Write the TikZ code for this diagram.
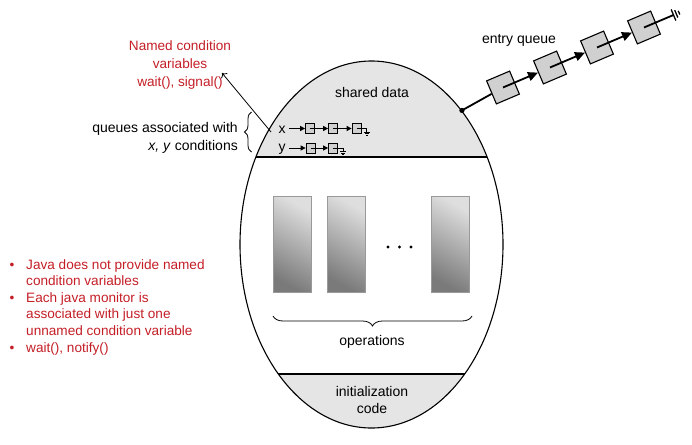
\documentclass[tikz,border=0pt]{standalone}
\usepackage{fontspec}
\setmainfont{Liberation Sans}
\usetikzlibrary{arrows.meta,decorations.pathreplacing,shapes.geometric,calc}
\definecolor{cvred}{RGB}{196,30,38}
\begin{document}
\begin{tikzpicture}[x=1pt,y=-1pt,
  lbl/.style={font=\fontsize{14}{17}\selectfont, inner sep=0pt},
  redlbl/.style={lbl, text=cvred, font=\fontsize{13.6}{17}\selectfont},
  qbox/.style={draw, fill=gray!37, line width=1.1pt, minimum size=25pt, inner sep=0pt, rotate=23},
  sbox/.style={draw, fill=gray!37, line width=0.7pt, minimum width=9pt, minimum height=10pt, inner sep=0pt},
  qlink/.style={line width=1.8pt, -{Triangle[length=10pt,width=9pt]}},
  slink/.style={line width=0.8pt, -{Triangle[length=5pt,width=5pt]}},
  opbox/.style={draw=gray!80, line width=0.5pt, top color=black!13, bottom color=black!52, shading angle=-30},
  outline/.style={line width=1.1pt},
  brace/.style={decorate, decoration={brace, amplitude=#1}, line width=0.8pt}
]
\useasboundingbox (0,0) rectangle (692,444);

% monitor regions
\begin{scope}
  \clip (371.5,244.5) ellipse [x radius=131.5, y radius=183.5];
  \fill[gray!20] (200,0) rectangle (560,157);
  \fill[gray!20] (200,374) rectangle (560,444);
  \draw[outline] (200,157) -- (560,157);
  \draw[outline] (200,374) -- (560,374);
\end{scope}
\node[ellipse, draw, outline, minimum width=263pt, minimum height=367pt, inner sep=0pt] (monitor) at (371.5,244.5) {};

% texts inside monitor
\node[lbl, anchor=base] (shared) at (372,97.3) {shared data};
\node[lbl, anchor=base] (ops) at (372,345.5) {operations};
\node[lbl, anchor=base] (init1) at (372,396.7) {initialization};
\node[lbl, anchor=base] (init2) at (372,413.3) {code};

% operation boxes
\shade[opbox] (273,196) rectangle (311,292);
\shade[opbox] (327,196) rectangle (365,292);
\shade[opbox] (431,196) rectangle (469,292);
\fill (388,247) circle[radius=1.7];
\fill (399.5,247) circle[radius=1.7];
\fill (411,247) circle[radius=1.7];
\draw[brace=10pt] (472,316) -- (273,316);

% entry queue
\coordinate (att) at (monitor.56.6);
\node[qbox] (q1) at (503,87.5) {};
\node[qbox] (q2) at (550,67.5) {};
\node[qbox] (q3) at (597,47.5) {};
\node[qbox] (q4) at (644,27.5) {};
\draw[line width=1.8pt] (att) -- (q1);
\fill (att) circle[radius=2.6];
\draw[qlink] (q1.center) -- (q2.west);
\draw[qlink] (q2.center) -- (q3.west);
\draw[qlink] (q3.center) -- (q4.west);
\coordinate (qend) at (673.5,15);
\draw[line width=1.8pt] (q4.center) -- (qend);
\draw[line width=1.3pt] (671.16,9.48) -- (675.84,20.52);
\draw[line width=1.3pt] (674.70,10.15) -- (677.82,17.51);
\draw[line width=1.3pt] (678.24,10.82) -- (679.80,14.50);
\node[lbl, anchor=base] (eq) at (519,44) {entry queue};

% condition queues
\node[lbl, anchor=base, inner xsep=3.5pt] (xl) at (282,133) {x};
\node[lbl, anchor=base, inner xsep=3.5pt] (yl) at (282,151) {y};
\node[sbox] (x1) at (310,128.5) {};
\node[sbox] (x2) at (333,128.5) {};
\node[sbox] (x3) at (356.5,128.5) {};
\node[sbox] (y1) at (310.5,148) {};
\node[sbox] (y2) at (333,148) {};
\draw[slink] (x1.west -| xl.east) -- (x1.west);
\draw[slink] (x1.center) -- (x2.west);
\draw[slink] (x2.center) -- (x3.west);
\draw[slink] (y1.west -| yl.east) -- (y1.west);
\draw[slink] (y1.center) -- (y2.west);
\coordinate (xg) at ($(x3.east)+(5.5,0)$);
\coordinate (yg) at ($(y2.east)+(5.5,0)$);
\draw[line width=0.8pt] (x3.center) -- (xg) -- ++(0,3.5);
\draw[line width=0.7pt] ($(xg)+(-3,3.5)$) -- ++(6,0) ($(xg)+(-2,5)$) -- ++(4,0) ($(xg)+(-1,6.5)$) -- ++(2,0);
\draw[line width=0.8pt] (y2.center) -- (yg) -- ++(0,3.5);
\draw[line width=0.7pt] ($(yg)+(-3,3.5)$) -- ++(6,0) ($(yg)+(-2,5)$) -- ++(4,0) ($(yg)+(-1,6.5)$) -- ++(2,0);

% queues label and brace
\node[lbl, anchor=base east] (qa1) at (238,132) {queues associated with};
\node[lbl, anchor=base east] (qa2) at (238,150) {\textit{x, y} conditions};
\draw[brace=7pt] (251.5,152) -- (251.5,112);

% named condition variables
\node[redlbl, anchor=base] (cv1) at (180,51) {Named condition};
\node[redlbl, anchor=base] (cv2) at (180,68.5) {variables};
\node[redlbl, anchor=base] (cv3) at (180,86) {wait(), signal()};
\coordinate (cvfrom) at (271,132);
\coordinate (cvto) at (222,73);
\draw[line width=0.8pt, -{To[length=4pt,width=8pt]}] (cvfrom) -- (cvto);

% java notes
\node[redlbl, anchor=base west] (b1a) at (26,269) {Java does not provide named};
\node[redlbl, anchor=base west] (b1b) at (26,285.6) {condition variables};
\node[redlbl, anchor=base west] (b2a) at (26,302.2) {Each java monitor is};
\node[redlbl, anchor=base west] (b2b) at (26,318.8) {associated with just one};
\node[redlbl, anchor=base west] (b2c) at (26,335.4) {unnamed condition variable};
\node[redlbl, anchor=base west] (b3a) at (26,352) {wait(), notify()};
\node[redlbl, anchor=base] (d1) at (12,269) {•};
\node[redlbl, anchor=base] (d2) at (12,302.2) {•};
\node[redlbl, anchor=base] (d3) at (12,352) {•};
\end{tikzpicture}
\end{document}
